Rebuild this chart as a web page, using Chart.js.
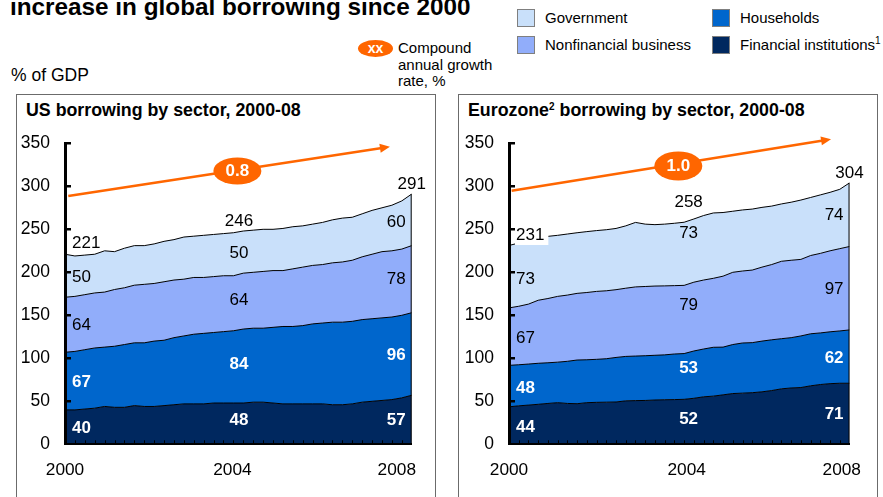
<!DOCTYPE html>
<html>
<head>
<meta charset="utf-8">
<script src="https://cdn.jsdelivr.net/npm/chart.js@4.4.0/dist/chart.umd.min.js"></script>
<style>
  html, body { margin: 0; padding: 0; background: #fff; }
  body { width: 883px; height: 497px; position: relative; overflow: hidden;
         font-family: "Liberation Sans", Arial, sans-serif; color: #000; }
  .t { position: absolute; white-space: nowrap; line-height: 1; }
  .title { left: 10px; top: -5.5px; font-size: 24.3px; font-weight: bold; }
  .unit { left: 11px; top: 67px; font-size: 17.5px; }
  .note { left: 398px; top: 40px; font-size: 15px; line-height: 16.7px; }
  .badge { position: absolute; left: 358px; top: 40px; width: 35px; height: 17px; border-radius: 50%;
           background: #FF6600; color: #fff; font-weight: bold; font-size: 14px; line-height: 17px; text-align: center; }
  .sw { position: absolute; width: 18px; height: 18px; box-sizing: border-box; border: 1px solid #7f7f7f; }
  .lg { position: absolute; font-size: 15px; line-height: 18px; white-space: nowrap; }
  .sup { font-size: 10px; position: relative; top: -6px; }
  .panel { position: absolute; top: 94px; width: 418px; height: 420px; border: 1px solid #6b6b6b; }
  .ptitle { font-size: 17.8px; font-weight: bold; top: 101.8px; }
  canvas { position: absolute; }
</style>
</head>
<body>
<div class="t title">increase in global borrowing since 2000</div>
<div class="t unit">% of GDP</div>
<div class="badge">xx</div>
<div class="t note">Compound<br>annual growth<br>rate, %</div>

<div class="sw" style="left:517px;top:9px;background:#C9E0FA"></div>
<div class="lg" style="left:545px;top:9px">Government</div>
<div class="sw" style="left:517px;top:36px;background:#91ADFA"></div>
<div class="lg" style="left:545px;top:36px">Nonfinancial business</div>
<div class="sw" style="left:712px;top:9px;background:#0066CC"></div>
<div class="lg" style="left:740px;top:9px">Households</div>
<div class="sw" style="left:712px;top:36px;background:#00285F"></div>
<div class="lg" style="left:740px;top:36px">Financial institutions<span class="sup">1</span></div>

<div class="panel" style="left:16px"></div>
<div class="panel" style="left:458px"></div>
<div class="t ptitle" style="left:26px">US borrowing by sector, 2000-08</div>
<div class="t ptitle" style="left:468px">Eurozone<span class="sup">2</span> borrowing by sector, 2000-08</div>

<canvas id="us" width="419" height="402" style="left:16px;top:95px;width:419px;height:402px"></canvas>
<canvas id="eu" width="419" height="402" style="left:458px;top:95px;width:419px;height:402px"></canvas>

<script>
// Quarterly observations, 2000 Q1 – 2008 Q4
const quarters = [
  '2000Q1','2000Q2','2000Q3','2000Q4','2001Q1','2001Q2','2001Q3','2001Q4',
  '2002Q1','2002Q2','2002Q3','2002Q4','2003Q1','2003Q2','2003Q3','2003Q4',
  '2004Q1','2004Q2','2004Q3','2004Q4','2005Q1','2005Q2','2005Q3','2005Q4',
  '2006Q1','2006Q2','2006Q3','2006Q4','2007Q1','2007Q2','2007Q3','2007Q4',
  '2008Q1','2008Q2','2008Q3','2008Q4'
];
const yearLabels = ['2000', '2004', '2008'];
// stacking order, bottom to top
const sectors = ['Financial institutions', 'Households', 'Nonfinancial business', 'Government'];

// US debt by sector, % of GDP
const usFinancial    = [40,40,41,42,44,43,43,45,44,44,45,46,47,47,47,48,48,48,48,49,49,48,47,47,47,47,47,46,46,47,49,50,51,52,54,57];
const usHouseholds   = [67,68,69,70,69,71,73,73,74,76,76,78,79,81,82,82,83,84,86,86,86,88,90,90,91,93,94,96,96,96,96,96,96,96,96,96];
const usNonfinancial = [64,64,64,64,64,66,66,67,68,67,68,67,66,66,65,65,65,64,65,65,66,66,65,67,68,68,68,69,70,71,73,75,77,77,77,78];
const usGovernment   = [50,47,46,45,48,44,46,46,45,46,47,47,49,48,49,49,49,50,49,49,49,48,49,49,48,48,49,50,51,50,50,51,51,53,56,60];

// Eurozone debt by sector, % of GDP
const euFinancial    = [43.6,44.7,45.6,46.5,47.5,48.4,47.5,47.2,48.4,48.8,49,49.2,50.5,50.8,51,51.5,51.8,52,52.3,53.5,55.2,56,57.5,59,59.5,60,61,62.5,64.5,65.5,66,68,69.5,70.5,71,71];
const euHouseholds   = [48.2,47.8,47.7,47.7,47.3,47.1,49,50.8,49.9,50,50.5,51.8,51.7,51.8,52,52,52.2,53,53.2,55,55.6,56.8,55.5,57,58.3,58.2,59,59,58.3,58.5,60,60.5,60,60.3,60.8,62];
const euNonfinancial = [66.8,68,69.7,73.3,74.7,76.5,77,77.5,78.2,79,79,78.8,79.3,80.4,80.5,80.5,80.2,79.5,79.3,80,80.2,80.2,82.5,84,83.7,84.4,86,87.5,90,90,89,91,92.5,94.2,95.7,97];
const euGovernment   = [72.6,73.5,74,72.5,72.3,71,71,70.5,70.8,70.7,71,71.2,72.5,75,72.5,71.4,71.8,72.5,73.4,73.5,75,76,74,71,71,70.9,69.5,68,66.7,67.5,69,67.5,68,68,69,74];

// compound annual growth rate, %
const usCagr = '0.8';
const euCagr = '1.0';

const sectorColors = ['#00285F', '#0066CC', '#91ADFA', '#C9E0FA'];
const FONT = '"Liberation Sans", Arial, sans-serif';
const ORANGE = '#FF6600';
Chart.defaults.font.family = FONT;

// Labels, axis furniture and the growth arrow drawn on top of the areas
const decor = {
  id: 'decor',
  afterDatasetsDraw(chart, args, o) {
    const { ctx, chartArea: a, scales: { x, y } } = chart;
    const S = o.series, n = S[0].length;
    const totalAt = i => S.reduce((s, arr) => s + arr[i], 0);
    ctx.save();

    // right edge of the stack
    ctx.strokeStyle = '#000';
    ctx.lineWidth = 1;
    ctx.beginPath();
    ctx.moveTo(a.right - 0.5, y.getPixelForValue(0));
    ctx.lineTo(a.right - 0.5, y.getPixelForValue(totalAt(n - 1)));
    ctx.stroke();

    // quarterly tick marks pointing into the plot
    ctx.beginPath();
    for (let i = 1; i < n - 1; i++) {
      const px = Math.round(x.getPixelForValue(i)) + 0.5;
      ctx.moveTo(px, a.bottom);
      ctx.lineTo(px, a.bottom - 4);
    }
    ctx.stroke();

    // value-axis tick marks pointing into the plot
    ctx.lineWidth = 2.5;
    ctx.beginPath();
    y.ticks.forEach(t => {
      if (t.value === 0) return;
      const py = y.getPixelForValue(t.value);
      ctx.moveTo(a.left, py);
      ctx.lineTo(a.left + 6, py);
    });
    ctx.stroke();

    // segment and total labels
    const spots = [
      { idx: 0, x: a.left + 7, align: 'left', nudge: o.leftNudge, tx: a.left + 7, talign: 'left', box: o.boxFirstTotal },
      { idx: o.midIdx, x: x.getPixelForValue(o.midAt), align: 'center', nudge: o.midNudge, tx: x.getPixelForValue(o.midAt), talign: 'center' },
      { idx: n - 1, x: a.right - 6, align: 'right', nudge: o.rightNudge, tx: a.right, talign: 'center' }
    ];
    ctx.textBaseline = 'middle';
    spots.forEach(sp => {
      let base = 0;
      S.forEach((arr, k) => {
        const v = arr[sp.idx];
        const py = y.getPixelForValue(base + v / 2) + sp.nudge[k];
        base += v;
        const dark = k < 2;
        ctx.font = (dark ? 'bold ' : '') + '17px ' + FONT;
        ctx.fillStyle = dark ? '#fff' : '#000';
        ctx.textAlign = sp.align;
        ctx.fillText(String(Math.round(v)), sp.x, py);
      });
      const txt = String(Math.round(base));
      const py = y.getPixelForValue(base) + sp.nudge[4];
      ctx.font = '17px ' + FONT;
      ctx.textAlign = sp.talign;
      if (sp.box) {
        const w = ctx.measureText(txt).width;
        ctx.fillStyle = '#fff';
        ctx.fillRect(sp.tx - 1, py - 8.5, w + 5, 18);
      }
      ctx.fillStyle = '#000';
      ctx.fillText(txt, sp.tx, py);
    });

    // growth arrow with rate badge
    const A = o.arrow;
    const x0 = x.getPixelForValue(A.from[0]), y0 = y.getPixelForValue(A.from[1]);
    const x1 = x.getPixelForValue(A.to[0]), y1 = y.getPixelForValue(A.to[1]);
    const len = Math.hypot(x1 - x0, y1 - y0), ux = (x1 - x0) / len, uy = (y1 - y0) / len;
    ctx.strokeStyle = ORANGE;
    ctx.fillStyle = ORANGE;
    ctx.lineWidth = 2.5;
    ctx.beginPath();
    ctx.moveTo(x0, y0);
    ctx.lineTo(x1 - ux * 8, y1 - uy * 8);
    ctx.stroke();
    ctx.beginPath();
    ctx.moveTo(x1, y1);
    ctx.lineTo(x1 - ux * 10 - uy * 4.5, y1 - uy * 10 + ux * 4.5);
    ctx.lineTo(x1 - ux * 10 + uy * 4.5, y1 - uy * 10 - ux * 4.5);
    ctx.closePath();
    ctx.fill();
    const bx = x.getPixelForValue(A.badge[0]), by = y.getPixelForValue(A.badge[1]);
    ctx.beginPath();
    ctx.ellipse(bx, by, A.rx, A.ry, 0, 0, Math.PI * 2);
    ctx.fill();
    ctx.fillStyle = '#fff';
    ctx.font = 'bold 17px ' + FONT;
    ctx.textAlign = 'center';
    ctx.fillText(o.cagr, bx, by + 0.5);

    ctx.restore();
  }
};

function drawPanel(id, series, cagr, L) {
  const datasets = series.map((arr, k) => ({
    label: sectors[k],
    data: arr.map((v, i) => ({ x: i, y: v })),
    backgroundColor: sectorColors[k],
    borderColor: '#000',
    borderWidth: 1,
    pointRadius: 0,
    tension: 0,
    fill: k === 0 ? 'origin' : '-1'
  }));
  return new Chart(document.getElementById(id), {
    type: 'line',
    data: { labels: quarters, datasets },
    options: {
      responsive: false,
      animation: false,
      devicePixelRatio: 1,
      layout: { padding: { left: 0, top: L.padTop, right: L.padRight, bottom: 0 } },
      plugins: {
        legend: { display: false },
        tooltip: { enabled: false },
        decor: Object.assign({ series, cagr }, L)
      },
      scales: {
        x: {
          type: 'linear', min: 0, max: quarters.length - 1,
          grid: { display: false, drawTicks: false },
          border: { display: true, color: '#000', width: 2, z: 1 },
          afterBuildTicks: s => { s.ticks = L.yearAt.map(v => ({ value: v })); },
          afterFit: s => { s.height = L.xHeight; },
          ticks: { autoSkip: false, maxRotation: 0, color: '#000', font: { size: 17.3 }, padding: 15.5,
                   callback: (v, i) => yearLabels[i] }
        },
        y: {
          stacked: true, min: 0, max: 350,
          grid: { display: false, drawTicks: false },
          border: { display: true, color: '#000', width: 3, z: 1 },
          afterFit: s => { s.width = L.yWidth; },
          ticks: { stepSize: 50, color: '#000', font: { size: 17.5 }, padding: 15 }
        }
      }
    },
    plugins: [decor]
  });
}

drawPanel('us', [usFinancial, usHouseholds, usNonfinancial, usGovernment], usCagr, {
  yWidth: 49, xHeight: 52.7, padTop: 48.3, padRight: 23.3,
  yearAt: [0, 16.9, 33.5],
  midIdx: 17, midAt: 17.57,
  leftNudge: [1, 1, 1, 2, -11],
  midNudge: [-3.7, -3, -3.3, -1.2, -11],
  rightNudge: [1, 1, 0, 2, -10],
  boxFirstTotal: false,
  arrow: { from: [0.33, 288.7], to: [32.8, 346], badge: [17.4, 317.8], rx: 24, ry: 13.5 }
});

drawPanel('eu', [euFinancial, euHouseholds, euNonfinancial, euGovernment], euCagr, {
  yWidth: 51, xHeight: 52.7, padTop: 48.3, padRight: 23,
  yearAt: [0, 18.26, 34.2],
  midIdx: 18, midAt: 18.46,
  leftNudge: [1.6, 2, 2, 3, -10],
  midNudge: [-2, -8.4, -14.4, -20.5, -19.5],
  rightNudge: [1, 2, 1, 1, -10],
  boxFirstTotal: true,
  arrow: { from: [0.27, 294.9], to: [33.1, 354.7], badge: [17.4, 323.6], rx: 24, ry: 14.5 }
});
</script>
</body>
</html>
